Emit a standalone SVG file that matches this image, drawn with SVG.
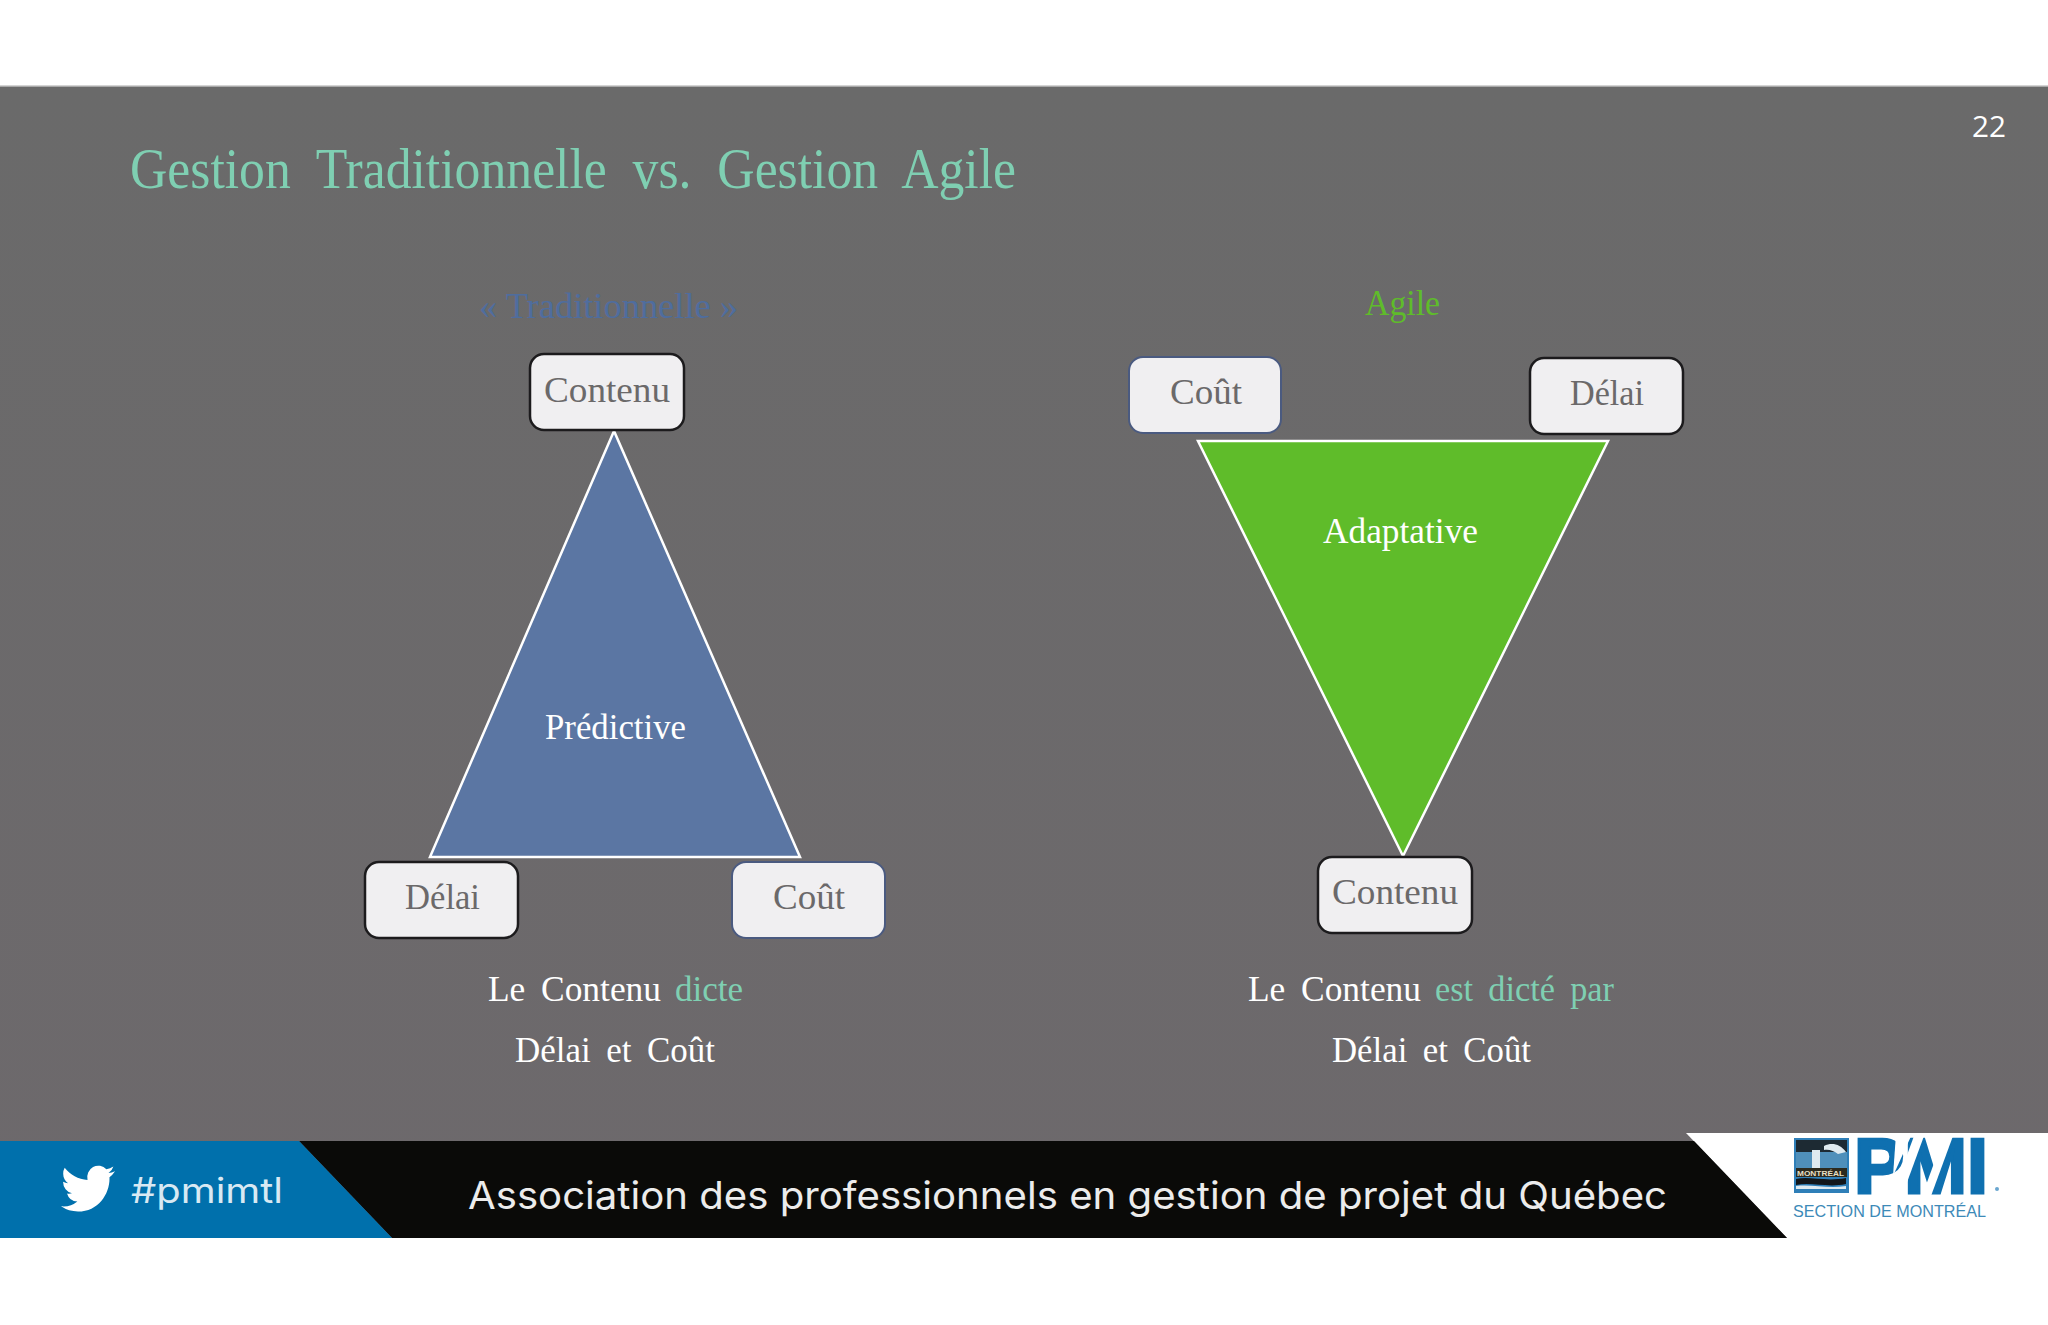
<svg xmlns="http://www.w3.org/2000/svg" width="2048" height="1325" viewBox="0 0 2048 1325">
<defs>
<linearGradient id="slideFill" x1="0" y1="0" x2="0" y2="1"><stop offset="0" stop-color="#6a6a6a"/><stop offset="1" stop-color="#6d696c"/></linearGradient>
</defs>
<style>
text{font-family:"Liberation Serif","DejaVu Serif",serif}
.box{fill:#f0eff1;stroke-width:2.5}
.dark{stroke:#1c1b1d}
.blue{stroke:#4a5a80;stroke-width:2}
.lbl{font-size:36px;fill:#6b696a}
.cap{font-size:36px;fill:#fff;word-spacing:7px}
.acc{fill:#7fcfb2}
.tri{stroke:#fff;stroke-width:2.5;stroke-linejoin:miter}
.sans{font-family:"Inter","Open Sans","Liberation Sans",sans-serif}
</style>
<rect width="2048" height="1325" fill="#fff"/>
<rect id="slide" x="0" y="86" width="2048" height="1152" fill="url(#slideFill)"/>
<rect x="0" y="85.5" width="2048" height="1.5" fill="#a9a9a9"/>
<text id="title" x="130" y="188" font-size="56" fill="#7fcfb2" word-spacing="14" textLength="886" lengthAdjust="spacingAndGlyphs">Gestion Traditionnelle vs. Gestion Agile</text>
<text id="page" x="1972" y="137" font-size="29" fill="#fff" textLength="34" lengthAdjust="spacingAndGlyphs" style="font-family:'Open Sans','Liberation Sans',sans-serif">22</text>

<g id="left-heading"><text x="479" y="318" font-size="36" fill="#4f6d9e" textLength="259" lengthAdjust="spacingAndGlyphs">« Traditionnelle »</text></g>
<g id="right-heading"><text x="1365" y="315" font-size="36" fill="#5fbc2a" textLength="75" lengthAdjust="spacingAndGlyphs">Agile</text></g>

<g id="connectors"></g>

<g id="triangle-predictive">
<polygon class="tri" points="614,431 430,857 800,857" fill="#5b76a3"/>
<text x="545" y="739" class="cap" textLength="141" lengthAdjust="spacingAndGlyphs">Prédictive</text>
</g>
<g id="triangle-adaptative">
<polygon class="tri" points="1198,441 1608,441 1403,856" fill="#5fbc2a"/>
<text x="1323" y="543" class="cap" textLength="155" lengthAdjust="spacingAndGlyphs">Adaptative</text>
</g>

<g id="left-contenu">
<rect class="box dark" x="530" y="354" width="154" height="76" rx="14"/>
<text class="lbl" x="544" y="402" textLength="126" lengthAdjust="spacingAndGlyphs">Contenu</text>
</g>
<g id="left-delai">
<rect class="box dark" x="365" y="862" width="153" height="76" rx="14"/>
<text class="lbl" x="405" y="909" textLength="75" lengthAdjust="spacingAndGlyphs">Délai</text>
</g>
<g id="left-cout">
<rect class="box blue" x="732" y="862" width="153" height="76" rx="14"/>
<text class="lbl" x="773" y="909" textLength="72" lengthAdjust="spacingAndGlyphs">Coût</text>
</g>
<g id="right-cout">
<rect class="box blue" x="1129" y="357" width="152" height="76" rx="14"/>
<text class="lbl" x="1170" y="404" textLength="72" lengthAdjust="spacingAndGlyphs">Coût</text>
</g>
<g id="right-delai">
<rect class="box dark" x="1530" y="358" width="153" height="76" rx="14"/>
<text class="lbl" x="1570" y="405" textLength="74" lengthAdjust="spacingAndGlyphs">Délai</text>
</g>
<g id="right-contenu">
<rect class="box dark" x="1318" y="857" width="154" height="76" rx="14"/>
<text class="lbl" x="1332" y="904" textLength="126" lengthAdjust="spacingAndGlyphs">Contenu</text>
</g>

<g id="left-caption">
<text class="cap" x="488" y="1001" textLength="173" lengthAdjust="spacingAndGlyphs">Le Contenu</text>
<text class="cap acc" x="675" y="1001" textLength="68" lengthAdjust="spacingAndGlyphs">dicte</text>
<text class="cap" x="515" y="1062" textLength="200" lengthAdjust="spacingAndGlyphs">Délai et Coût</text>
</g>
<g id="right-caption">
<text class="cap" x="1248" y="1001" textLength="173" lengthAdjust="spacingAndGlyphs">Le Contenu</text>
<text class="cap acc" x="1435" y="1001" textLength="179" lengthAdjust="spacingAndGlyphs">est dicté par</text>
<text class="cap" x="1332" y="1062" textLength="199" lengthAdjust="spacingAndGlyphs">Délai et Coût</text>
</g>

<g id="footer">
<polygon points="1686,1133 2048,1133 2048,1238 1787,1238" fill="#fff"/>
<polygon points="299,1141 1694,1141 1787,1238 392,1238" fill="#0a0a08"/>
<polygon points="0,1141 299,1141 392,1238 0,1238" fill="#0070ac"/>
<path transform="translate(61,1160.4) scale(2.25,2.35)" fill="#fff" d="M23.953 4.57a10 10 0 01-2.825.775 4.958 4.958 0 002.163-2.723c-.951.555-2.005.959-3.127 1.184a4.92 4.92 0 00-8.384 4.482C7.69 8.095 4.067 6.13 1.64 3.162a4.822 4.822 0 00-.666 2.475c0 1.71.87 3.213 2.188 4.096a4.904 4.904 0 01-2.228-.616v.06a4.923 4.923 0 003.946 4.827 4.996 4.996 0 01-2.212.085 4.936 4.936 0 004.604 3.417 9.867 9.867 0 01-6.102 2.105c-.39 0-.779-.023-1.17-.067a13.995 13.995 0 007.557 2.209c9.053 0 13.998-7.496 13.998-13.985 0-.21 0-.42-.015-.63A9.935 9.935 0 0024 4.59z"/>
<text class="sans" x="131" y="1203" font-size="35" fill="#d8e9f3" textLength="152" lengthAdjust="spacingAndGlyphs">#pmimtl</text>
<text class="sans" x="468" y="1209" font-size="38" fill="#ececec" textLength="1199" lengthAdjust="spacingAndGlyphs">Association des professionnels en gestion de projet du Québec</text>
</g>

<g id="logo">
<rect x="1794" y="1138" width="55" height="55" fill="#2f7fb8"/>
<rect x="1796" y="1140" width="51" height="12" fill="#1d2a33"/>
<path d="M1796 1152h51v16h-51z" fill="#4f8fba"/>
<path d="M1812 1150h8v18h-8zM1824 1146c8-4 16-2 22 6l-8 2c-4-3-9-5-14-4z" fill="#dfeaf0"/>
<rect x="1796" y="1168" width="51" height="9" fill="#2c2a1e"/>
<text x="1797" y="1175.5" font-size="7" fill="#e6dfc4" textLength="47" lengthAdjust="spacingAndGlyphs" style="font-family:'Liberation Sans',sans-serif;font-weight:bold">MONTRÉAL</text>
<path d="M1796 1179c14-3 30 3 50-1v6c-18 4-34-2-50 1z" fill="#12161a"/>
<path d="M1796 1186c16-2 32 3 50 0v3h-50z" fill="#dfeaf0"/>
<text x="1854" y="1193" font-size="78" fill="#0f70b0" stroke="#0f70b0" stroke-width="3" textLength="134" lengthAdjust="spacingAndGlyphs" style="font-family:'Liberation Sans',sans-serif;font-weight:bold">PMI</text>
<polygon points="1892,1196 1914,1136 1924,1136 1902,1196" fill="#fff"/>
<polygon points="1922,1196 1944,1136 1953,1136 1931,1196" fill="#fff"/>
<polygon points="1896,1134 1912,1134 1893,1176" fill="#fff"/>
<circle cx="1997" cy="1189" r="2" fill="#6aa6cf"/>
<text x="1793" y="1217" font-size="17" fill="#3d8ab8" textLength="193" lengthAdjust="spacingAndGlyphs" style="font-family:'Liberation Sans',sans-serif">SECTION DE MONTRÉAL</text>
</g>
</svg>
